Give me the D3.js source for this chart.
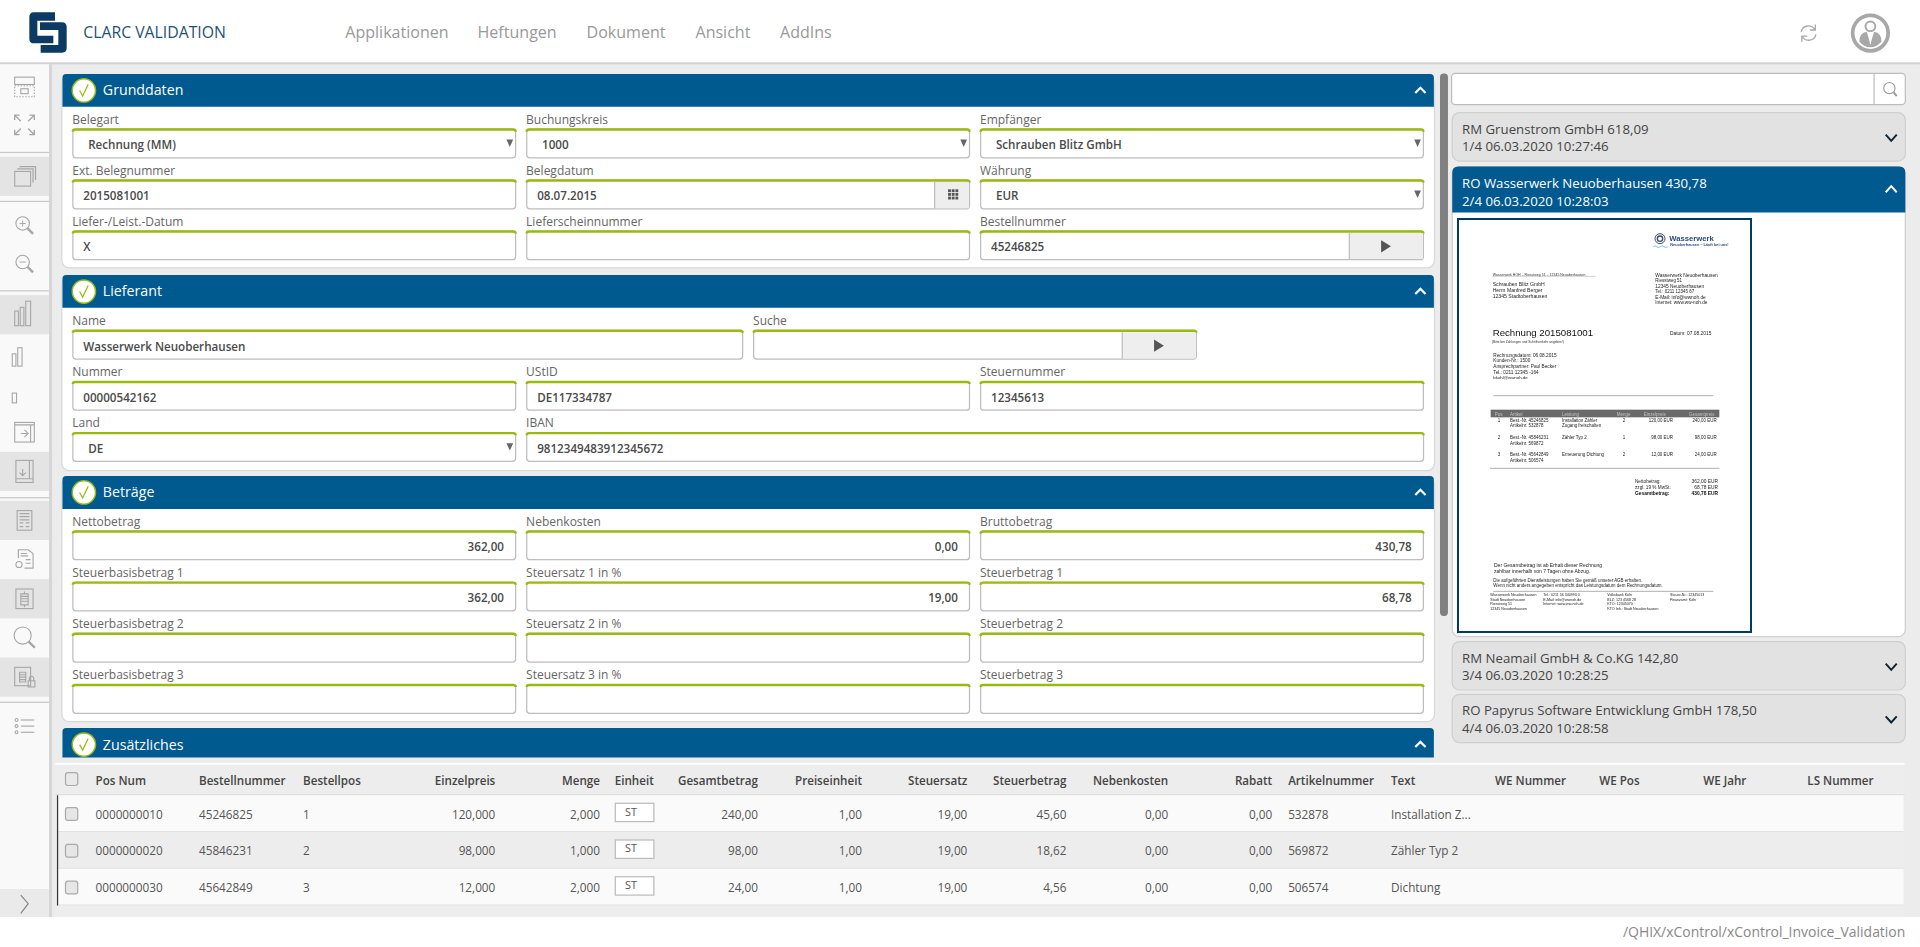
<!DOCTYPE html>
<html lang="de"><head><meta charset="utf-8"><title>CLARC VALIDATION</title>
<script src="https://cdn.jsdelivr.net/npm/d3@7"></script>
<style>html,body{margin:0;padding:0;background:#fff;overflow:hidden}svg{display:block;font-family:"Open Sans",sans-serif}</style>
</head><body><svg id="app" width="1920" height="947"></svg>
<script>
// ---------- content ----------
const appTitle = "CLARC VALIDATION";
const menuItems = ["Applikationen","Heftungen","Dokument","Ansicht","AddIns"];
const footerPath = "/QHIX/xControl/xControl_Invoice_Validation";
const sectionTitles = ["Grunddaten","Lieferant","Beträge","Zusätzliches"];

const grundLabels = ["Belegart","Buchungskreis","Empfänger","Ext. Belegnummer","Belegdatum","Währung","Liefer-/Leist.-Datum","Lieferscheinnummer","Bestellnummer"];
const grundValues = ["Rechnung (MM)","1000","Schrauben Blitz GmbH","2015081001","08.07.2015","EUR","X","","45246825"];
const grundKinds  = ["select","select","select","text","date","select","text","text","action"];

const liefLabels = ["Name","Suche","Nummer","UStID","Steuernummer","Land","IBAN"];
const liefValues = ["Wasserwerk Neuoberhausen","","00000542162","DE117334787","12345613","DE","9812349483912345672"];
const liefKinds  = ["text","action","text","text","text","select","text"];

const betragLabels = ["Nettobetrag","Nebenkosten","Bruttobetrag","Steuerbasisbetrag 1","Steuersatz 1 in %","Steuerbetrag 1","Steuerbasisbetrag 2","Steuersatz 2 in %","Steuerbetrag 2","Steuerbasisbetrag 3","Steuersatz 3 in %","Steuerbetrag 3"];
const betragValues = ["362,00","0,00","430,78","362,00","19,00","68,78","","","","","",""];

const tableHeaders = ["Pos Num","Bestellnummer","Bestellpos","Einzelpreis","Menge","Einheit","Gesamtbetrag","Preiseinheit","Steuersatz","Steuerbetrag","Nebenkosten","Rabatt","Artikelnummer","Text","WE Nummer","WE Pos","WE Jahr","LS Nummer"];
const posNum = ["0000000010","0000000020","0000000030"];
const bestellnummer = ["45246825","45846231","45642849"];
const bestellpos = ["1","2","3"];
const einzelpreis = ["120,000","98,000","12,000"];
const menge = ["2,000","1,000","2,000"];
const einheit = ["ST","ST","ST"];
const gesamtbetrag = ["240,00","98,00","24,00"];
const preiseinheit = ["1,00","1,00","1,00"];
const steuersatz = ["19,00","19,00","19,00"];
const steuerbetrag = ["45,60","18,62","4,56"];
const nebenkosten = ["0,00","0,00","0,00"];
const rabatt = ["0,00","0,00","0,00"];
const artikelnummer = ["532878","569872","506574"];
const textCol = ["Installation Z...","Zähler Typ 2","Dichtung"];
const tableColumns = [posNum,bestellnummer,bestellpos,einzelpreis,menge,einheit,gesamtbetrag,preiseinheit,steuersatz,steuerbetrag,nebenkosten,rabatt,artikelnummer,textCol,[],[],[],[]];

const queueTitles = ["RM Gruenstrom GmbH 618,09","RO Wasserwerk Neuoberhausen 430,78","RM Neamail GmbH & Co.KG 142,80","RO Papyrus Software Entwicklung GmbH 178,50"];
const queueStamps = ["1/4 06.03.2020 10:27:46","2/4 06.03.2020 10:28:03","3/4 06.03.2020 10:28:25","4/4 06.03.2020 10:28:58"];

const invoiceTexts = ["Wasserwerk","Neuoberhausen – Läuft bei uns!","Wasserwerk HOH – Riesstweg 51 – 12345 Neuoberhausen","Schrauben Blitz GmbH","Herrn Manfred Berger","12345 Stadtoberhausen","Wasserwerk Neuoberhausen","Riesstweg 51","12345 Neuoberhausen","Tel.: 0211 12345 67","E-Mail: info@wwnoh.de","Internet: www.ww-noh.de","Rechnung 2015081001","Datum: 07.08.2015","(Bitte bei Zahlungen und Schriftverkehr angeben!)","Rechnungsdatum: 06.08.2015","Kunden-Nr.: 1500","Ansprechpartner: Paul Becker","Tel.: 0211 12345 -164","bkohl@wwnoh.de","1","Best.-Nr. 45246825","Artikelnr. 532878","Installation Zähler","Zugang freischalten","2","120,00 EUR","240,00 EUR","2","Best.-Nr. 45846231","Artikelnr. 569872","Zähler Typ 2","1","98,00 EUR","98,00 EUR","3","Best.-Nr. 45642849","Artikelnr. 506574","Erneuerung Dichtung","2","12,00 EUR","24,00 EUR","Nettobetrag:","362,00 EUR","zzgl. 19 % MwSt:","68,78 EUR","Gesamtbetrag:","430,78 EUR","Der Gesamtbetrag ist ab Erhalt dieser Rechnung","zahlbar innerhalb von 7 Tagen ohne Abzug.","Die aufgeführten Dienstleistungen haben Sie gemäß unserer AGB erhalten.","Wenn nicht anders angegeben entspricht das Leistungsdatum dem Rechnungsdatum.","Wasserwerk Neuoberhausen","Stadt Neuoberhausen","Riesstweg 51","12345 Neuoberhausen","Tel.: 0211 56 340993 0","E-Mail: info@wwnoh.de","Internet: www.ww-noh.de","Volksbank Köln","BLZ: 123 4568 28","KTO: 12345070","KTO Inh.: Stadt Neuoberhausen","Steuer-Nr.: 12345013","Finanzamt: Köln"];
const invoiceHeaders = ["Pos","Artikel","Leistung","Menge","Einzelpreis","Gesamtpreis"];

// ---------- layout (reference-thumbnail units, scaled to the window) ----------
const k = 1920/1568;
const BLUE="#005a8f", GREEN="#9aba12", BORDER="#bdbdbd", LABEL="#666", VALUE="#4a4a4a", ICON="#a6a6a6";
const FS_LABEL=9.8, FS_VALUE=9.5, FS_TH=9.5, FS_TD=9.6, FS_Q=10.8;
const svg = d3.select("#app");
const root = svg.append("g").attr("transform",`scale(${k})`);
const W=1568, H=947/k;
const rect=(p,x,y,w,h,f,r)=>p.append("rect").attr("x",x).attr("y",y).attr("width",w).attr("height",h).attr("fill",f).attr("rx",r||0);
const text=(p,s,x,y,size,fill,opt={})=>p.append("text").attr("x",x).attr("y",y).attr("font-size",size).attr("fill",fill).attr("dominant-baseline","central").attr("text-anchor",opt.anchor||"start").attr("font-weight",opt.weight||400).text(s);
const path=(p,d,stroke,sw,fill)=>p.append("path").attr("d",d).attr("stroke",stroke||"none").attr("stroke-width",sw||1).attr("fill",fill||"none");

rect(root,0,0,W,H,"#ececec");

// header
const head=root.append("g");
rect(head,0,0,W,51,"#fff");
rect(head,0,51,W,1.5,"#d0d0d0");
const logo=head.append("g").attr("transform",`translate(${20/k},${5/k}) scale(${1/(3*k)})`);
path(logo,"M105,22 H42 Q28,22 28,36 V101 Q28,115 42,115 H100 V92 H52 V47 H105 Z",null,0,"#0c3a63");
path(logo,"M60,52 H126 Q140,52 140,66 V129 Q140,143 126,143 H62 V120 H115 V75 H60 Z",null,0,"#0c3a63");
text(head,appTitle,68,26.5,12.9,"#1e5078");
const menuX=d3.scaleOrdinal(menuItems,[282,390,479,568,637]);
head.selectAll("text.menu").data(menuItems).join("text").attr("class","menu")
  .attr("x",d=>menuX(d)).attr("y",26.5).attr("dominant-baseline","central").attr("font-size",13.1).attr("fill","#999").text(d=>d);
// refresh icon
const rf=head.append("g").attr("transform","translate(1477,27)").attr("fill","none").attr("stroke","#aaa").attr("stroke-width",1.1);
rf.append("path").attr("d","M-6,-1 A6,6 0 0 1 5,-3 M6,1 A6,6 0 0 1 -5,3 M5.5,-7 V-2.5 H1 M-5.5,7 V2.5 H-1");
// user icon
const us=head.append("g").attr("transform","translate(1527.5,27)");
us.append("circle").attr("r",14.5).attr("fill","#fff").attr("stroke","#a8a8a8").attr("stroke-width",3);
us.append("circle").attr("cy",-5.5).attr("r",4).attr("fill","#fff").attr("stroke","#a8a8a8").attr("stroke-width",1.6);
path(us,"M-9,7 Q-9,0 -3,-1 L0,9 L3,-1 Q9,0 9,7 Q5,11.5 0,11.5 Q-5,11.5 -9,7 Z",null,0,"#a8a8a8");
path(us,"M0,-1 V9","#fff",1);

// sidebar
const side=root.append("g");
rect(side,0,52.5,40,696.5,"#f9f9f9");
rect(side,40,52.5,2.5,696.5,"#d6d6d6");
const iconKinds=["resize","expand","pages","zoomin","zoomout","bar3","bar2","bar1","exit","book","form","docgear","chip","search","lock","list"];
const iconY=d3.scaleOrdinal(iconKinds,[71,102,144,184.5,216,257,291,325,353,385,425,457,489,521,553,593]);
const banded=["pages","bar3","book","form","chip","lock"];
side.selectAll("rect.band").data(banded).join("rect").attr("class","band").attr("x",0).attr("width",40).attr("y",d=>iconY(d)-16).attr("height",32).attr("fill","#e4e4e4");
side.selectAll("rect.div").data([124,164,237,406,573]).join("rect").attr("class","div").attr("x",0).attr("width",40).attr("y",d=>d).attr("height",1).attr("fill","#c8c8c8");
rect(side,0,726,40,23,"#eaeaea");
path(side,"M17,731 L23,738 L17,746","#888",1);
const magnifier=(g,r,sign)=>{g.append("circle").attr("cx",-1.5).attr("cy",-2).attr("r",r);
  path(g,`M${-1.5+r*.7},${-2+r*.7} L${r+1.5},${r+1}`,ICON,2);
  if(sign)path(g,sign,ICON,.8);};
const iconDraw={
 resize:g=>{g.append("rect").attr("x",-8).attr("y",-8).attr("width",16).attr("height",6);g.append("rect").attr("x",-8).attr("y",-1).attr("width",16).attr("height",9).attr("stroke-dasharray","1.2 1.2");g.append("rect").attr("x",-3).attr("y",1.5).attr("width",6).attr("height",4);},
 expand:g=>{path(g,"M-3,-3 L-8,-8 M-8,-4 V-8 H-4 M3,-3 L8,-8 M8,-4 V-8 H4 M-3,3 L-8,8 M-8,4 V8 H-4 M3,3 L8,8 M8,4 V8 H4",ICON,1.1);},
 pages:g=>{g.append("rect").attr("x",-8).attr("y",-4).attr("width",13).attr("height",12).attr("fill","#e4e4e4");path(g,"M-6,-6 H7 V5 M-4,-8 H9 V3",ICON,1);},
 zoomin:g=>magnifier(g,5.5,"M-4,-2 H1 M-1.5,-4.5 V.5"),
 zoomout:g=>magnifier(g,5.5,"M-4,-2 H1"),
 bar3:g=>{[[-8,-2,3],[-3.5,-5,3],[1,-10,4]].forEach(b=>g.append("rect").attr("x",b[0]).attr("y",b[1]+ -1).attr("width",b[2]).attr("height",10-b[1]+1-1));},
 bar2:g=>{[[-8,-2,3],[-3.5,-7,3.5]].forEach(b=>g.append("rect").attr("x",b[0]).attr("y",b[1]).attr("width",b[2]).attr("height",8-b[1]));},
 bar1:g=>{g.append("rect").attr("x",-8).attr("y",-4).attr("width",3.5).attr("height",8);},
 exit:g=>{g.append("rect").attr("x",-8).attr("y",-8).attr("width",16).attr("height",16);path(g,"M-8,-6 H8 M5,-6 V8 M-3,1 H2 M0,-2 L3,1 L0,4",ICON,.9);},
 book:g=>{g.append("rect").attr("x",-7).attr("y",-9).attr("width",14).attr("height",18);path(g,"M-7,6 H7 M4,-9 V6 M-1.5,-2 V3 M-4,1 L-1.5,3.5 L1,1",ICON,.9);},
 form:g=>{g.append("rect").attr("x",-6).attr("y",-8).attr("width",12).attr("height",16);path(g,"M-4,-5.5 H4 M-4,-3 H4 M-4,-.5 H4 M-4,2 H-1 M1,2 H4 M1,5 H4 M-4,5 H-1",ICON,1);},
 docgear:g=>{path(g,"M-5,-1 V-8 H3 L7,-5 V7 H0 M-3,-5 H2 M-3,-3 H3 M1,0 H5 M1,3 H5",ICON,.9);g.append("circle").attr("cx",-4.5).attr("cy",4).attr("r",2.5);},
 chip:g=>{g.append("rect").attr("x",-7).attr("y",-8).attr("width",14).attr("height",16);path(g,"M-3,-4 H3 V5 H-3 Z M-3,-2 H3 M-3,0 H3 M-3,2 H3 M0,-6 V-4 M0,5 V7",ICON,.9);},
 search:g=>magnifier(g,7,null),
 lock:g=>{g.append("rect").attr("x",-8).attr("y",-8).attr("width",13).attr("height",15);path(g,"M-4,-4 H1 V4 H-4 Z M-4,-2 H1 M-4,0 H1 M-4,2 H1",ICON,.9);g.append("rect").attr("x",3).attr("y",3).attr("width",5.5).attr("height",5);g.append("path").attr("d","M4,3 V1 A1.7,1.7 0 0 1 7.5,1 V3");},
 list:g=>{[-5,0,5].forEach(d=>{g.append("circle").attr("cx",-6.5).attr("cy",d).attr("r",1.2);path(g,`M-3,${d} H8`,ICON,.9);});}
};
side.selectAll("g.icon").data(iconKinds).join("g").attr("class","icon")
  .attr("transform",d=>`translate(${["bar2","bar1"].includes(d)?18:20},${iconY(d)})`)
  .attr("fill","none").attr("stroke",ICON).attr("stroke-width",.9).each(function(d){iconDraw[d](d3.select(this));});

// form panels
const colX=d3.scaleLinear().domain([0,3]).range([59,1171]);
const COLW=362.6, FH=24.4, PITCH=41.8, PANEL_X=51, PANEL_W=1120;
const panelHead=(y,h,title)=>{
  const g=root.append("g");
  path(g,`M${PANEL_X},${y+h} V${y+3} Q${PANEL_X},${y} ${PANEL_X+3},${y} H${PANEL_X+PANEL_W-3} Q${PANEL_X+PANEL_W},${y} ${PANEL_X+PANEL_W},${y+3} V${y+h} Z`,null,0,BLUE);
  g.append("circle").attr("cx",68.5).attr("cy",y+13.5).attr("r",9.5).attr("fill","#fff").attr("stroke",GREEN).attr("stroke-width",1.2);
  path(g,`M65,${y+13.5} L67.5,${y+18} L72,${y+8.5}`,GREEN,1);
  text(g,title,84,y+13,11.6,"#fff");
  path(g,`M1155.8,${y+15.5} L1160,${y+11.3} L1164.2,${y+15.5}`,"#fff",1.8);
};
const panelBody=(y,h)=>{const g=root.append("g");
  g.append("rect").attr("x",PANEL_X-.5).attr("y",y).attr("width",PANEL_W+1).attr("height",h).attr("rx",6).attr("fill","#fff").attr("stroke","#d8d8d8");};
const field=(g,x,y,w,label,value,kind,numeric)=>{
  text(g,label,x,y-7.5,FS_LABEL,LABEL);
  g.append("rect").attr("x",x+.5).attr("y",y+.5).attr("width",w-1).attr("height",FH-1).attr("rx",2.5).attr("fill","#fff").attr("stroke",BORDER);
  path(g,`M${x+.5},${y+2.5} Q${x+.5},${y+.8} ${x+2.5},${y+.8} H${x+w-2.5} Q${x+w-.5},${y+.8} ${x+w-.5},${y+2.5}`,GREEN,2);
  const tx=kind==="select"?x+13:x+9;
  if(value) numeric ? text(g,value,x+w-10,y+13.3,FS_VALUE,VALUE,{anchor:"end",weight:600})
                    : text(g,value,tx,y+13.3,FS_VALUE,VALUE,{weight:600});
  if(kind==="select") path(g,`M${x+w-8},${y+9} h5.5 l-2.75,6 z`,null,0,"#666");
  if(kind==="date"||kind==="action"){
    const bw=kind==="date"?29:61, bx=x+w-bw;
    path(g,`M${bx},${y+2} H${x+w-1} V${y+FH-1} H${bx} Z`,null,0,"#eeeeee");
    path(g,`M${bx},${y+2} V${y+FH-1}`,BORDER,1);
    if(kind==="date") d3.range(9).forEach(i=>rect(g,bx+11+(i%3)*3,y+8+Math.floor(i/3)*3,2.3,2.3,"#555"));
    else path(g,`M${bx+26},${y+8} l8,5 l-8,5 z`,null,0,"#555");
  }
};
// Grunddaten
panelBody(62,156.8); panelHead(60.4,26.8,sectionTitles[0]);
const gG=root.append("g");
grundLabels.forEach((l,i)=>field(gG,colX(i%3),105+Math.floor(i/3)*41.6,COLW,l,grundValues[i],grundKinds[i]));
// Lieferant
panelBody(226,158.4); panelHead(224.6,26.8,sectionTitles[1]);
const lG=root.append("g");
const liefX=d3.scaleOrdinal(liefLabels,[59,615,colX(0),colX(1),colX(2),colX(0),colX(1)]);
const liefW=d3.scaleOrdinal(liefLabels,[548,362.5,COLW,COLW,COLW,COLW,733.4]);
const liefRow=d3.scaleOrdinal(liefLabels,[0,0,1,1,1,2,2]);
liefLabels.forEach((l,i)=>field(lG,liefX(l),269.3+liefRow(l)*PITCH,liefW(l),l,liefValues[i],liefKinds[i]));
// Beträge
panelBody(390,199.4); panelHead(388.7,27,sectionTitles[2]);
const bG=root.append("g");
betragLabels.forEach((l,i)=>field(bG,colX(i%3),433.2+Math.floor(i/3)*PITCH,COLW,l,betragValues[i],"text",true));
// Zusätzliches
panelHead(594.6,24,sectionTitles[3]);

// right column
rect(root,1176,60,6.5,443,"#808080",3);
const sb=root.append("g");
sb.append("rect").attr("x",1185.5).attr("y",60).attr("width",370.5).attr("height",25.5).attr("rx",3).attr("fill","#fff").attr("stroke",BORDER);
path(sb,"M1530.5,60 V85.5",BORDER,1);
sb.append("circle").attr("cx",1543).attr("cy",72).attr("r",4.6).attr("fill","none").attr("stroke","#999").attr("stroke-width",.9);
path(sb,"M1546.5,75.5 L1549,78.5","#999",1.6);

const qY=d3.scaleOrdinal([0,1,2,3],[92,136,524,567]);
const qH=d3.scaleOrdinal([0,1,2,3],[39.5,37.5,39.5,39.5]);
const queue=root.append("g");
queue.append("rect").attr("x",1186).attr("y",136).attr("width",370).attr("height",384).attr("rx",6).attr("fill","#fff").attr("stroke","#cfcfcf");
queueTitles.forEach((t,i)=>{
  const open=i===1, y=qY(i), g=queue.append("g");
  if(open) path(g,`M1186,${y+qH(i)} V${y+5} Q1186,${y} 1191,${y} H1551 Q1556,${y} 1556,${y+5} V${y+qH(i)} Z`,null,0,BLUE);
  else g.append("rect").attr("x",1186).attr("y",y).attr("width",370).attr("height",qH(i)).attr("rx",6).attr("fill","#e2e2e2").attr("stroke","#cfcfcf");
  const col=open?"#fff":"#444";
  text(g,t,1194,y+(open?13.5:13),FS_Q,col);
  text(g,queueStamps[i],1194,y+(open?28:27.5),FS_Q,col);
  const cy=y+(open?18:21);
  path(g,open?`M1540,${cy+3} L1544.5,${cy-2} L1549,${cy+3}`:`M1540,${cy-3} L1544.5,${cy+2} L1549,${cy-3}`,open?"#fff":"#123",1.6);
});

// invoice thumbnail (zoomed-crop units)
const inv=root.append("g").attr("transform",`scale(${1/k}) translate(1440,200) scale(${1/3})`).attr("font-family",'"Liberation Sans",sans-serif');
const defs=svg.append("defs");
defs.append("filter").attr("id","soft").append("feGaussianBlur").attr("stdDeviation",0.9);
inv.append("rect").attr("x",54).attr("y",57).attr("width",879).attr("height",1239).attr("fill","#fff").attr("stroke","#003b66").attr("stroke-width",6);
const page=inv.append("g").attr("filter","url(#soft)");
// placement of each invoice text line: x, y, size, weight, anchor, colour
const D="#222";
const invoicePlace=[
[688,124,23,700,"start","#2b4a7d"],[691,138,11.5,700,"start","#2b4a7d"],[158,227,10.6,400,"start","#333"],
[158,257,15.4,400,"start",D],[158,275,15.4,400,"start",D],[158,293,15.4,400,"start",D],
[646,230,14.6,400,"start",D],[646,246,13.4,400,"start",D],[646,263,14.4,400,"start",D],[646,280,13.4,400,"start",D],[646,296,14.4,400,"start",D],[646,313,14,400,"start",D],
[158,408,29,400,"start","#111"],[690,406,14.6,400,"start",D],[156,428,9.8,400,"start","#333"],
[160,470,14.2,400,"start",D],[160,487,14.2,400,"start",D],[160,504,14.2,400,"start",D],[160,521,14.2,400,"start",D],[160,538,13,400,"start",D],
[177,665,13.4,400,"middle",D],[210,665,13.4,400,"start",D],[210,682,13.4,400,"start",D],[366,665,13.4,400,"start",D],[366,682,13.4,400,"start",D],[552,665,13.4,400,"middle",D],[699,665,13.4,400,"end",D],[830,665,13.4,400,"end",D],
[177,717,13.4,400,"middle",D],[210,717,13.4,400,"start",D],[210,734,13.4,400,"start",D],[366,717,13.4,400,"start",D],[552,717,13.4,400,"middle",D],[699,717,13.4,400,"end",D],[830,717,13.4,400,"end",D],
[177,768,13.4,400,"middle",D],[210,768,13.4,400,"start",D],[210,785,13.4,400,"start",D],[366,768,13.4,400,"start",D],[552,768,13.4,400,"middle",D],[699,768,13.4,400,"end",D],[830,768,13.4,400,"end",D],
[585,848,14,400,"start",D],[834,848,14.6,400,"end",D],[585,866,14,400,"start",D],[834,866,14.6,400,"end",D],[585,885,14.6,700,"start","#111"],[834,885,14.6,700,"end","#111"],
[162,1100,15,400,"start",D],[162,1119,15,400,"start",D],[160,1145,13.4,400,"start",D],[160,1162,13.4,400,"start",D],
[151,1188,10.8,400,"start",D],[151,1202,10.8,400,"start",D],[151,1215,10.8,400,"start",D],[151,1229,10.8,400,"start",D],
[310,1188,10.8,400,"start",D],[310,1202,10.8,400,"start",D],[310,1215,10.8,400,"start",D],
[502,1188,10.8,400,"start",D],[502,1202,10.8,400,"start",D],[502,1215,10.8,400,"start",D],[502,1229,10.8,400,"start",D],
[690,1188,10.8,400,"start",D],[690,1202,10.8,400,"start",D]];
page.selectAll("text.l").data(invoiceTexts).join("text").attr("class","l")
 .attr("x",(d,i)=>invoicePlace[i][0]).attr("y",(d,i)=>invoicePlace[i][1]).attr("font-size",(d,i)=>invoicePlace[i][2])
 .attr("font-weight",(d,i)=>invoicePlace[i][3]).attr("text-anchor",(d,i)=>invoicePlace[i][4]).attr("fill",(d,i)=>invoicePlace[i][5]).text(d=>d);
rect(page,152,629,686,23,"#6a6a6a");
const invHeadX=d3.scaleOrdinal(invoiceHeaders,[164,210,366,530,611,747]);
page.selectAll("text.h").data(invoiceHeaders).join("text").attr("class","h").attr("x",d=>invHeadX(d)).attr("y",647).attr("font-size",13.5).attr("fill","#c4c4c4").text(d=>d);
[[160,820,587],[150,838,805],[160,820,1174]].forEach(l=>path(page,`M${l[0]},${l[2]} H${l[1]}`,"#888",2));
path(page,`M158,229 H467`,"#777",1);
const lg=inv.append("g").attr("transform","translate(660,116)").attr("fill","none").attr("stroke","#34496f");
lg.append("circle").attr("r",15).attr("stroke-width",3);lg.append("circle").attr("r",8).attr("stroke-width",4);
path(inv,"M640,140 q5,-5 10,0 t11,0 t11,0 t11,0","#2f9fdc",2);

// positions table
const tbl=root.append("g");
rect(tbl,45,624,1510.5,125,"#ededed");
rect(tbl,45,623,1510.5,1.5,"#fff");
rect(tbl,45,648.5,1510.5,.8,"#ddd");
const rowY=d3.scaleBand().domain([0,1,2]).range([649.5,739.5]);
const colAnchor=d3.scaleOrdinal(tableHeaders,[78,162.5,247.5,404.5,490,502,619,704,790,871,954,1039,1052,1136,1221,1306,1391,1476]);
const rightAligned=new Set(["Einzelpreis","Menge","Gesamtbetrag","Preiseinheit","Steuersatz","Steuerbetrag","Nebenkosten","Rabatt"]);
const checkbox=(g,y)=>{g.append("rect").attr("x",53.5).attr("y",y-5).attr("width",10).attr("height",10.5).attr("rx",2).attr("fill","#e9e9e9").attr("stroke","#aaa");};
checkbox(tbl,636);
tbl.selectAll("text.th").data(tableHeaders).join("text").attr("class","th")
 .attr("x",d=>colAnchor(d)).attr("y",637).attr("dominant-baseline","central").attr("font-size",FS_TH).attr("font-weight",600).attr("fill","#444")
 .attr("text-anchor",d=>rightAligned.has(d)?"end":"start").text(d=>d);
const rows=tbl.selectAll("g.tr").data(posNum).join("g").attr("class","tr").attr("transform",(d,i)=>`translate(0,${rowY(i)})`);
rows.append("rect").attr("x",47).attr("width",1507.5).attr("height",rowY.bandwidth()).attr("fill",(d,i)=>i%2?"#ededed":"#fafafa");
rows.append("rect").attr("x",47).attr("y",rowY.bandwidth()-.8).attr("width",1507.5).attr("height",.8).attr("fill","#e0e0e0");
rows.append("rect").attr("x",53.5).attr("y",rowY.bandwidth()/2-5).attr("width",10).attr("height",10.5).attr("rx",2).attr("fill","#e6e6e6").attr("stroke","#aaa");
tableHeaders.forEach((h,c)=>{
  const vals=tableColumns[c];
  if(h==="Einheit"){
    rows.append("rect").attr("x",colAnchor(h)+.5).attr("y",6.5).attr("width",31.5).attr("height",15).attr("fill","#fff").attr("stroke","#bbb");
    rows.append("text").attr("x",colAnchor(h)+8.5).attr("y",13).attr("dominant-baseline","central").attr("font-size",8.8).attr("fill","#555").text((d,i)=>vals[i]);
  } else if(vals.length){
    rows.append("text").attr("x",colAnchor(h)).attr("y",rowY.bandwidth()/2).attr("dominant-baseline","central").attr("font-size",FS_TD).attr("fill","#555")
      .attr("text-anchor",rightAligned.has(h)?"end":"start").text((d,i)=>vals[i]);
  }
});
rect(tbl,46.5,649.5,1,90,"#333");

// footer
rect(root,0,749,W,H-749,"#fff");
text(root,footerPath,1556,760.5,11.4,"#888",{anchor:"end"});
</script></body></html>
